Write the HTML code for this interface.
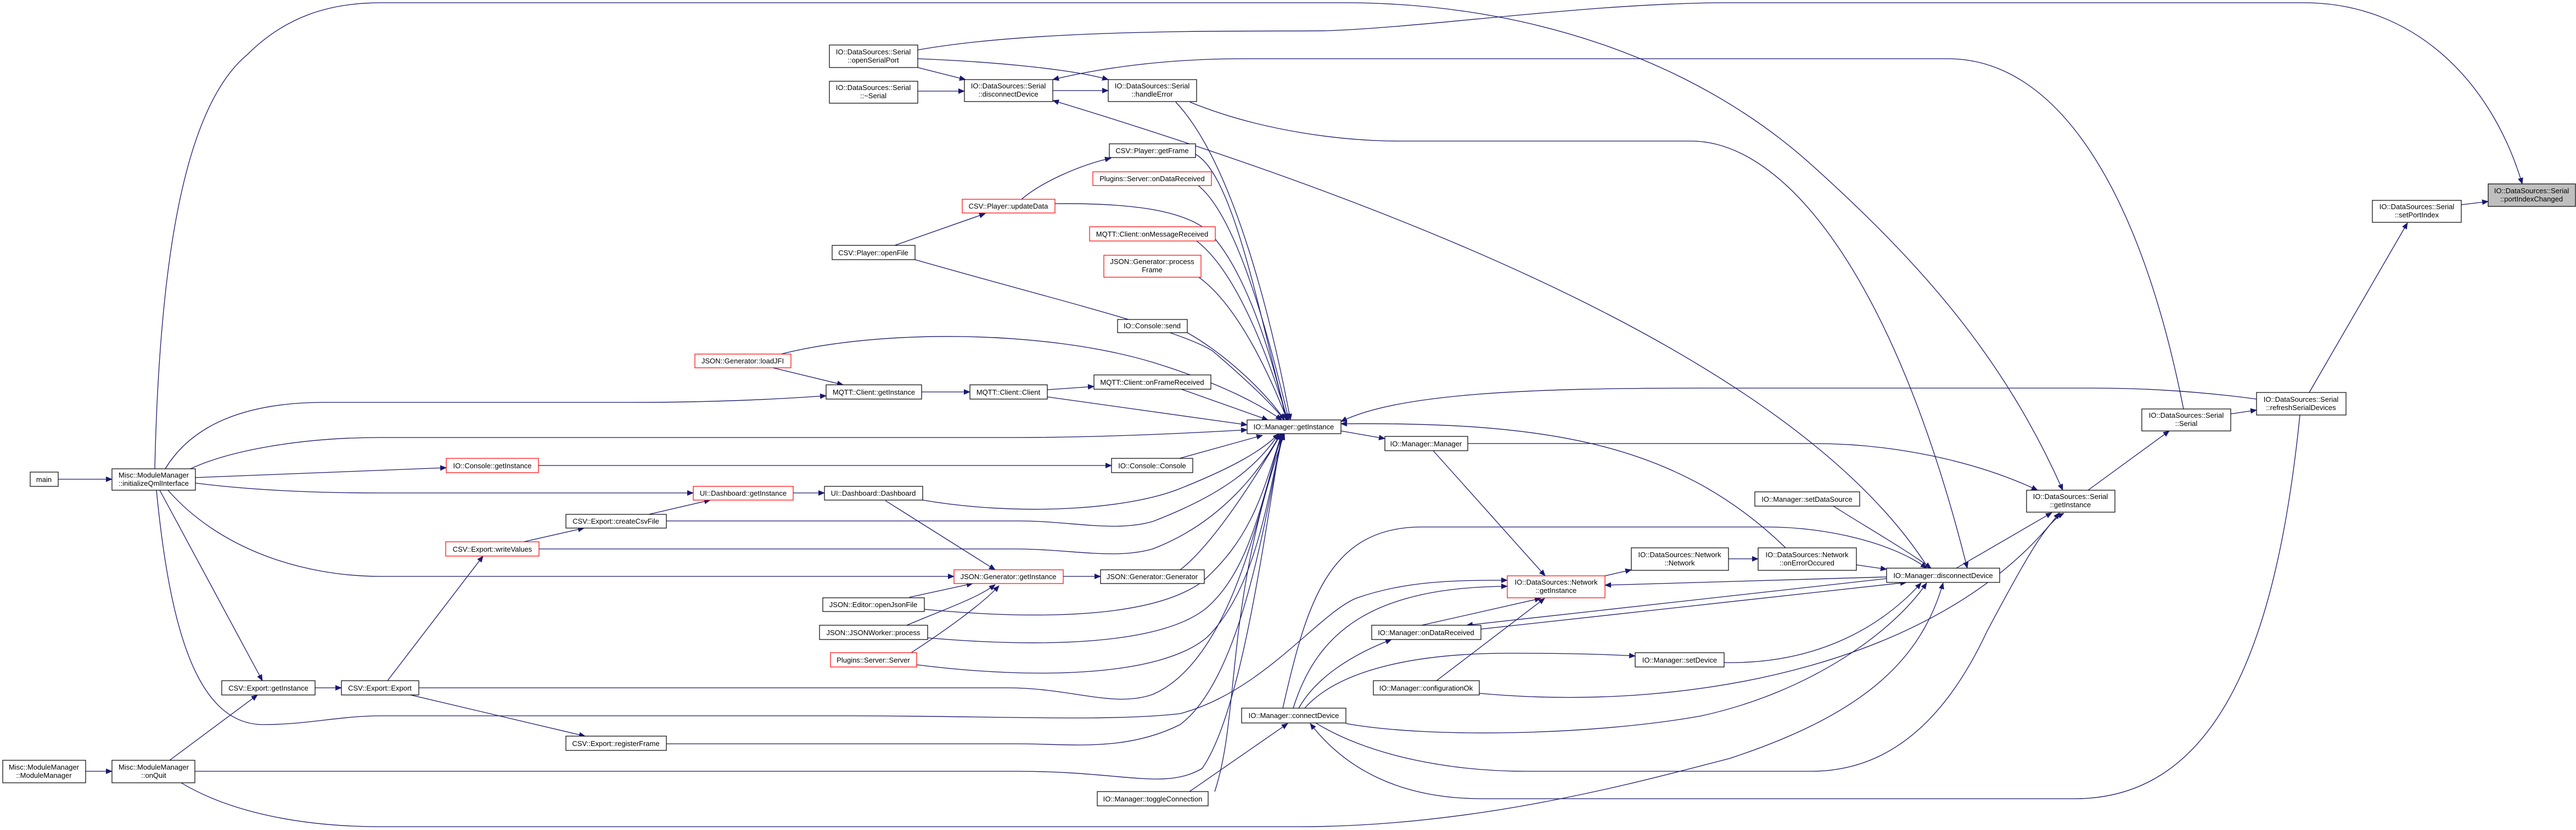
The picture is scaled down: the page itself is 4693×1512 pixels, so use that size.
<!DOCTYPE html>
<html><head><meta charset="utf-8"><style>
html,body{margin:0;padding:0;background:#fff;}
svg{display:block;}
text{font-family:"Liberation Sans",Arial,sans-serif;font-size:13px;fill:#000;text-anchor:middle;}
</style></head><body>
<svg width="4693" height="1512" viewBox="0 0 4693 1512" xmlns="http://www.w3.org/2000/svg">
<defs><marker id="a" markerWidth="12" markerHeight="10" refX="11" refY="5" orient="auto" markerUnits="userSpaceOnUse"><path d="M0,0 L12,5 L0,10z" fill="#191970"/></marker></defs>
<rect width="4693" height="1512" fill="#fff"/>
<g fill="none" stroke="#191970" stroke-width="1.3" marker-end="url(#a)">
<path d="M4484,373 L4533,367"/>
<path d="M4207,715 L4386,406"/>
<path d="M1672,91 C1900,50 2300,58 2417,56 C2600,50 2900,5 3150,5 L4197,5 C4400,5 4540,150 4595,335"/>
<path d="M282,854 C290,500 330,200 450,100 C520,30 600,5 694,5 L2448,5 C2800,5 3100,120 3300,300 C3500,480 3650,650 3758,893"/>
<path d="M3978,745 C3900,350 3750,107 3549,107 L2264,107 C2120,107 2000,125 1918,145"/>
<path d="M2168,186 C2300,240 2450,257 2550,257 L3081,257 C3250,257 3450,500 3584,1035"/>
<path d="M3513,1035 C3300,700 2700,420 1918,183"/>
<path d="M4111,727 C4000,712 3900,707 3814,707 L3100,707 C2800,707 2550,715 2443,768"/>
<path d="M3253,998 C3050,800 2800,769 2443,772"/>
<path d="M2443,785 L2523,799"/>
<path d="M2674,808 L3304,808 C3450,808 3600,840 3712,893"/>
<path d="M2611,821 L2815,1049"/>
<path d="M2924,1049 L2972,1038"/>
<path d="M3149,1018 L3203,1018"/>
<path d="M3382,1029 L3437,1037"/>
<path d="M3340,922 C3400,960 3470,1000 3518,1035"/>
<path d="M3564,1035 L3738,934"/>
<path d="M3804,893 L3952,785"/>
<path d="M4064,754 L4111,747"/>
<path d="M4190,756 C4150,1150 4050,1455 3780,1455 L2700,1455 C2550,1455 2450,1400 2387,1318"/>
<path d="M3437,1051 L2924,1066"/>
<path d="M3437,1054 L2672,1139"/>
<path d="M2698,1146 L3473,1061"/>
<path d="M2590,1139 L2807,1090"/>
<path d="M2617,1240 L2814,1090"/>
<path d="M2695,1263 C3100,1300 3550,1200 3752,934"/>
<path d="M3141,1207 C3300,1210 3420,1150 3500,1062"/>
<path d="M2377,1290 C2430,1230 2550,1190 2750,1190 C2850,1190 2930,1192 2979,1195"/>
<path d="M2366,1290 C2400,1230 2470,1190 2535,1165"/>
<path d="M2356,1290 C2400,1150 2500,1070 2746,1068"/>
<path d="M285,893 C310,1150 360,1320 480,1320 C560,1320 620,1304 694,1304 L1550,1304 C1800,1304 2024,1315 2150,1300 C2300,1260 2400,1120 2470,1090 C2560,1058 2650,1057 2746,1057"/>
<path d="M2337,1290 C2380,1100 2420,960 2590,960 L3220,960 C3330,960 3450,990 3510,1035"/>
<path d="M2452,1318 C2600,1345 2900,1340 3100,1304 C3300,1260 3450,1150 3510,1062"/>
<path d="M2397,1317 C2500,1380 2650,1405 2780,1405 L3300,1405 C3450,1405 3550,1300 3620,1150 C3700,1000 3730,950 3760,935"/>
<path d="M2167,1442 L2346,1318"/>
<path d="M2213,1442 C2260,1300 2230,1100 2340,790"/>
<path d="M330,1426 C420,1480 550,1506 694,1506 L2366,1506 C2700,1506 3000,1420 3150,1382 C3400,1300 3500,1200 3540,1062"/>
<path d="M355,1405 L1850,1405 C2050,1405 2120,1440 2190,1400 C2260,1300 2300,1000 2335,790"/>
<path d="M763,1253 L1836,1253 C1950,1253 2030,1290 2100,1265 C2250,1200 2300,900 2335,790"/>
<path d="M1214,1355 L1856,1355 C1950,1355 2050,1370 2150,1320 C2270,1230 2310,900 2338,790"/>
<path d="M1214,949 L1856,949 C1950,949 2030,970 2100,950 C2230,900 2290,850 2330,790"/>
<path d="M982,1000 L1846,1000 C1950,1000 2030,1020 2100,1000 C2230,950 2300,850 2333,790"/>
<path d="M1681,911 C1850,940 2050,930 2150,890 C2250,850 2300,820 2330,790"/>
<path d="M1684,1110 C1900,1130 2100,1125 2190,1060 C2280,980 2300,900 2335,790"/>
<path d="M1690,1162 C1900,1180 2110,1175 2195,1110 C2280,1040 2300,900 2336,790"/>
<path d="M1670,1211 C1900,1240 2120,1230 2200,1160 C2290,1070 2310,900 2337,790"/>
<path d="M2150,1038 C2200,1000 2270,900 2334,790"/>
<path d="M2149,835 L2300,793"/>
<path d="M347,854 C420,820 550,797 694,797 L1850,797 C2000,797 2150,790 2272,783"/>
<path d="M356,870 L813,852"/>
<path d="M356,880 C450,892 560,898 694,898 L1263,898"/>
<path d="M291,893 L478,1240"/>
<path d="M301,854 C340,790 420,733 592,733 L1153,733 C1300,733 1420,727 1505,721"/>
<path d="M306,893 C400,1000 550,1050 694,1050 L1738,1050"/>
<path d="M106,873 L204,873"/>
<path d="M156,1405 L204,1405"/>
<path d="M309,1385 L469,1266"/>
<path d="M574,1253 L622,1253"/>
<path d="M706,1240 L880,1013"/>
<path d="M954,987 L1064,962"/>
<path d="M1182,937 L1294,911"/>
<path d="M1445,898 L1502,898"/>
<path d="M748,1266 L1066,1341"/>
<path d="M981,848 L2025,848"/>
<path d="M1613,912 L1813,1038"/>
<path d="M1657,1088 L1772,1063"/>
<path d="M1652,1139 C1720,1110 1780,1090 1813,1065"/>
<path d="M1660,1189 C1720,1150 1790,1100 1820,1067"/>
<path d="M1937,1050 L2005,1050"/>
<path d="M1672,123 L1759,145"/>
<path d="M1672,107 C1800,112 1950,125 2019,145"/>
<path d="M1672,166 L1757,166"/>
<path d="M1918,165 L2019,165"/>
<path d="M2142,186 C2250,300 2320,600 2351,765"/>
<path d="M2178,281 C2250,320 2300,600 2345,765"/>
<path d="M2183,338 C2260,400 2320,650 2348,765"/>
<path d="M1861,363 C1900,330 1970,300 2024,288"/>
<path d="M1922,371 C2050,370 2150,380 2200,420 C2280,500 2330,700 2343,765"/>
<path d="M1630,447 L1795,389"/>
<path d="M1667,473 C1900,540 2150,600 2210,640 C2280,700 2320,740 2340,765"/>
<path d="M2180,439 C2260,500 2320,680 2346,765"/>
<path d="M2184,505 C2260,560 2320,700 2345,765"/>
<path d="M2163,606 C2240,650 2310,720 2340,765"/>
<path d="M1408,670 L1536,701"/>
<path d="M1423,645 C1600,600 1900,600 2100,660 C2230,700 2300,740 2335,765"/>
<path d="M1679,714 L1767,714"/>
<path d="M1908,710 L1993,704"/>
<path d="M1908,723 L2272,774"/>
<path d="M2152,709 L2310,765"/>
</g>
<g stroke-width="1.2">
<rect x="4533" y="335" width="159" height="41" fill="#bfbfbf" stroke="#000"/><text x="4612" y="352">IO::DataSources::Serial</text><text x="4612" y="367">::portIndexChanged</text>
<rect x="4322" y="365" width="162" height="40" fill="#fff" stroke="#000"/><text x="4403" y="381">IO::DataSources::Serial</text><text x="4403" y="396">::setPortIndex</text>
<rect x="4111" y="715" width="163" height="41" fill="#fff" stroke="#000"/><text x="4192" y="732">IO::DataSources::Serial</text><text x="4192" y="747">::refreshSerialDevices</text>
<rect x="3902" y="745" width="162" height="40" fill="#fff" stroke="#000"/><text x="3983" y="761">IO::DataSources::Serial</text><text x="3983" y="776">::Serial</text>
<rect x="3692" y="893" width="161" height="40" fill="#fff" stroke="#000"/><text x="3772" y="909">IO::DataSources::Serial</text><text x="3772" y="924">::getInstance</text>
<rect x="3197" y="896" width="191" height="26" fill="#fff" stroke="#000"/><text x="3292" y="914">IO::Manager::setDataSource</text>
<rect x="3203" y="998" width="179" height="41" fill="#fff" stroke="#000"/><text x="3292" y="1015">IO::DataSources::Network</text><text x="3292" y="1030">::onErrorOccured</text>
<rect x="3437" y="1035" width="206" height="26" fill="#fff" stroke="#000"/><text x="3540" y="1053">IO::Manager::disconnectDevice</text>
<rect x="2972" y="998" width="177" height="41" fill="#fff" stroke="#000"/><text x="3060" y="1015">IO::DataSources::Network</text><text x="3060" y="1030">::Network</text>
<rect x="2746" y="1049" width="178" height="40" fill="#fff" stroke="#ff0000"/><text x="2835" y="1065">IO::DataSources::Network</text><text x="2835" y="1080">::getInstance</text>
<rect x="2499" y="1139" width="199" height="26" fill="#fff" stroke="#000"/><text x="2598" y="1157">IO::Manager::onDataReceived</text>
<rect x="2979" y="1189" width="162" height="26" fill="#fff" stroke="#000"/><text x="3060" y="1207">IO::Manager::setDevice</text>
<rect x="2502" y="1240" width="193" height="26" fill="#fff" stroke="#000"/><text x="2598" y="1258">IO::Manager::configurationOk</text>
<rect x="2262" y="1290" width="190" height="27" fill="#fff" stroke="#000"/><text x="2357" y="1308">IO::Manager::connectDevice</text>
<rect x="1999" y="1442" width="202" height="26" fill="#fff" stroke="#000"/><text x="2100" y="1460">IO::Manager::toggleConnection</text>
<rect x="2272" y="765" width="171" height="25" fill="#fff" stroke="#000"/><text x="2357" y="782">IO::Manager::getInstance</text>
<rect x="2523" y="795" width="151" height="26" fill="#fff" stroke="#000"/><text x="2598" y="813">IO::Manager::Manager</text>
<rect x="2025" y="835" width="148" height="26" fill="#fff" stroke="#000"/><text x="2099" y="853">IO::Console::Console</text>
<rect x="1738" y="1038" width="199" height="25" fill="#fff" stroke="#ff0000"/><text x="1837" y="1055">JSON::Generator::getInstance</text>
<rect x="2005" y="1038" width="189" height="25" fill="#fff" stroke="#000"/><text x="2099" y="1055">JSON::Generator::Generator</text>
<rect x="1511" y="82" width="161" height="41" fill="#fff" stroke="#000"/><text x="1591" y="99">IO::DataSources::Serial</text><text x="1591" y="114">::openSerialPort</text>
<rect x="1511" y="148" width="161" height="40" fill="#fff" stroke="#000"/><text x="1591" y="164">IO::DataSources::Serial</text><text x="1591" y="179">::~Serial</text>
<rect x="1757" y="145" width="161" height="40" fill="#fff" stroke="#000"/><text x="1837" y="161">IO::DataSources::Serial</text><text x="1837" y="176">::disconnectDevice</text>
<rect x="2019" y="145" width="161" height="40" fill="#fff" stroke="#000"/><text x="2099" y="161">IO::DataSources::Serial</text><text x="2099" y="176">::handleError</text>
<rect x="2021" y="262" width="157" height="25" fill="#fff" stroke="#000"/><text x="2099" y="279">CSV::Player::getFrame</text>
<rect x="1991" y="313" width="216" height="25" fill="#fff" stroke="#ff0000"/><text x="2099" y="330">Plugins::Server::onDataReceived</text>
<rect x="1753" y="363" width="169" height="25" fill="#fff" stroke="#ff0000"/><text x="1837" y="380">CSV::Player::updateData</text>
<rect x="1985" y="413" width="229" height="26" fill="#fff" stroke="#ff0000"/><text x="2099" y="431">MQTT::Client::onMessageReceived</text>
<rect x="2011" y="465" width="177" height="40" fill="#fff" stroke="#ff0000"/><text x="2099" y="481">JSON::Generator::process</text><text x="2099" y="496">Frame</text>
<rect x="1516" y="447" width="151" height="26" fill="#fff" stroke="#000"/><text x="1591" y="465">CSV::Player::openFile</text>
<rect x="2036" y="582" width="127" height="24" fill="#fff" stroke="#000"/><text x="2099" y="598">IO::Console::send</text>
<rect x="1266" y="645" width="175" height="25" fill="#fff" stroke="#ff0000"/><text x="1353" y="662">JSON::Generator::loadJFI</text>
<rect x="1505" y="701" width="174" height="26" fill="#fff" stroke="#000"/><text x="1592" y="719">MQTT::Client::getInstance</text>
<rect x="1767" y="701" width="141" height="26" fill="#fff" stroke="#000"/><text x="1837" y="719">MQTT::Client::Client</text>
<rect x="1993" y="683" width="213" height="26" fill="#fff" stroke="#000"/><text x="2099" y="701">MQTT::Client::onFrameReceived</text>
<rect x="55" y="860" width="51" height="26" fill="#fff" stroke="#000"/><text x="80" y="878">main</text>
<rect x="204" y="854" width="152" height="39" fill="#fff" stroke="#000"/><text x="280" y="870">Misc::ModuleManager</text><text x="280" y="885">::initializeQmlInterface</text>
<rect x="813" y="835" width="168" height="26" fill="#fff" stroke="#ff0000"/><text x="897" y="853">IO::Console::getInstance</text>
<rect x="1263" y="886" width="182" height="25" fill="#fff" stroke="#ff0000"/><text x="1354" y="903">UI::Dashboard::getInstance</text>
<rect x="1502" y="886" width="179" height="25" fill="#fff" stroke="#000"/><text x="1591" y="903">UI::Dashboard::Dashboard</text>
<rect x="1031" y="937" width="183" height="25" fill="#fff" stroke="#000"/><text x="1122" y="954">CSV::Export::createCsvFile</text>
<rect x="812" y="987" width="170" height="26" fill="#fff" stroke="#ff0000"/><text x="897" y="1005">CSV::Export::writeValues</text>
<rect x="1499" y="1089" width="185" height="25" fill="#fff" stroke="#000"/><text x="1591" y="1106">JSON::Editor::openJsonFile</text>
<rect x="1493" y="1139" width="197" height="26" fill="#fff" stroke="#000"/><text x="1591" y="1157">JSON::JSONWorker::process</text>
<rect x="1513" y="1189" width="157" height="26" fill="#fff" stroke="#ff0000"/><text x="1591" y="1207">Plugins::Server::Server</text>
<rect x="404" y="1240" width="170" height="26" fill="#fff" stroke="#000"/><text x="489" y="1258">CSV::Export::getInstance</text>
<rect x="622" y="1240" width="141" height="26" fill="#fff" stroke="#000"/><text x="692" y="1258">CSV::Export::Export</text>
<rect x="1031" y="1341" width="183" height="26" fill="#fff" stroke="#000"/><text x="1122" y="1359">CSV::Export::registerFrame</text>
<rect x="5" y="1385" width="151" height="41" fill="#fff" stroke="#000"/><text x="80" y="1402">Misc::ModuleManager</text><text x="80" y="1417">::ModuleManager</text>
<rect x="204" y="1385" width="151" height="41" fill="#fff" stroke="#000"/><text x="280" y="1402">Misc::ModuleManager</text><text x="280" y="1417">::onQuit</text>
</g>
</svg>
</body></html>
